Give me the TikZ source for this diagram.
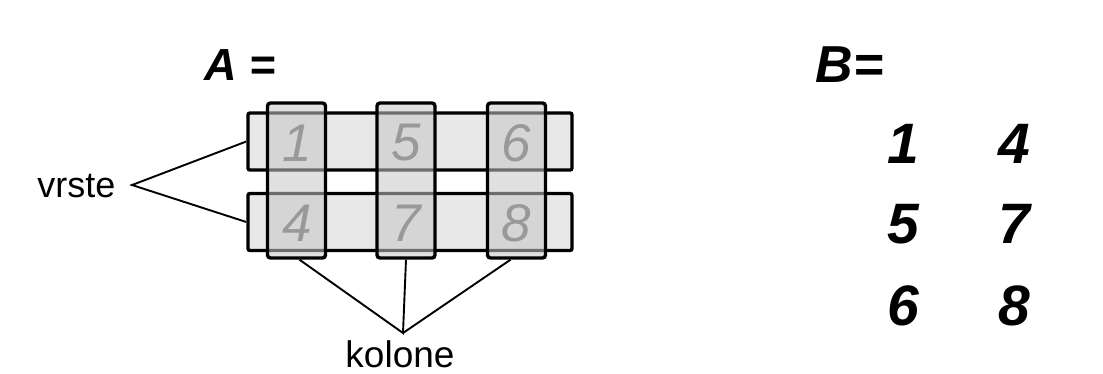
\documentclass[tikz,border=0pt]{standalone}
\usepackage{fontspec}
\setmainfont{Liberation Sans}
\usetikzlibrary{positioning}

\tikzset{
    rowbox/.style={draw, line width=3.4pt, rounded corners=2pt, fill=black!9,
                   minimum width=324pt, minimum height=57pt, inner sep=0pt},
    colbox/.style={draw, line width=3.4pt, rounded corners=3pt, fill=black!22,
                   fill opacity=0.55, draw opacity=1,
                   minimum width=58pt, minimum height=155pt, inner sep=0pt},
    graydigit/.style={text=black!40, font=\fontsize{53}{53}\selectfont\itshape},
    blackdigit/.style={font=\fontsize{57}{57}\selectfont\bfseries\itshape, anchor=base},
    pointer/.style={line width=1.9pt}
}

\begin{document}
\begin{tikzpicture}[x=1pt, y=-1pt]
    \useasboundingbox (0,0) rectangle (1103,373);

    % matrix A
    \node[anchor=base west, font=\fontsize{45}{45}\selectfont\bfseries\itshape]
        (Alabel) at (201,80) {A =};
    \node[rowbox] (row1) at (410,141.5) {};
    \node[rowbox] (row2) at (410,222) {};
    \node[colbox] (col1) at (296.5,180.5) {};
    \node[colbox] (col2) at (406,180.5) {};
    \node[colbox] (col3) at (516.5,180.5) {};
    \node[graydigit] (a11) at (297,143) {1};
    \node[graydigit] (a12) at (406,143) {5};
    \node[graydigit] (a13) at (516,143) {6};
    \node[graydigit] (a21) at (297,223) {4};
    \node[graydigit] (a22) at (406,223) {7};
    \node[graydigit] (a23) at (516,223) {8};

    % labels with pointers
    \node[anchor=base east, font=\fontsize{36}{36}\selectfont] (vrste) at (119,197) {vrste};
    \coordinate (vtip) at (132,185);
    \draw[pointer] (row1.west) -- (vtip) -- (row2.west);
    \node[anchor=base, font=\fontsize{37}{37}\selectfont] (kolone) at (400,367) {kolone};
    \coordinate (ktip) at (403,333);
    \draw[pointer] ([xshift=3pt]col1.south) -- (ktip) -- (col2.south);
    \draw[pointer] ([xshift=-6pt]col3.south) -- (ktip);

    % matrix B
    \node[anchor=base west, font=\fontsize{52}{52}\selectfont\bfseries\itshape]
        (Blabel) at (812,82) {B=};
    \node[blackdigit] (b11) at (903,163) {1};
    \node[blackdigit] (b12) at (1014,163) {4};
    \node[blackdigit] (b21) at (903,243) {5};
    \node[blackdigit] (b22) at (1014,243) {7};
    \node[blackdigit] (b31) at (903,325) {6};
    \node[blackdigit] (b32) at (1014,325) {8};
\end{tikzpicture}
\end{document}
